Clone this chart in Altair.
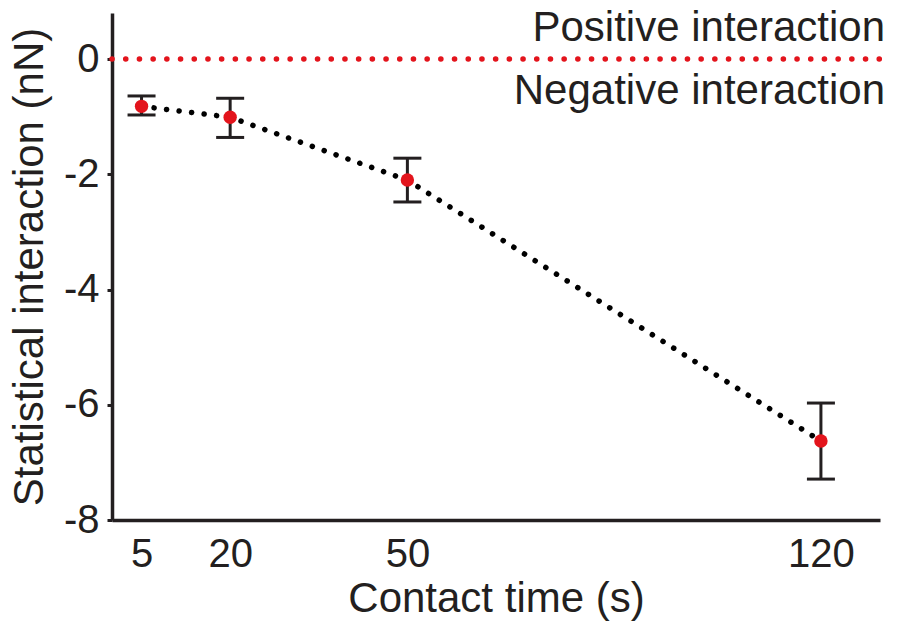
import altair as alt
import pandas as pd

times = [5, 20, 50, 120]
means = [-0.82, -1.01, -2.10, -6.63]
lower = [-0.97, -1.36, -2.48, -7.29]
upper = [-0.64, -0.68, -1.72, -5.97]

ann_labels = ["Positive interaction", "Negative interaction"]
ann_dy = [-18, 45]

x_ticks = [5, 20, 50, 120]
y_ticks = [-8, -6, -4, -2, 0]

FONT = "Liberation Sans"
INK = "#231f20"
RED = "#e3141c"

df = pd.DataFrame({"t": times, "m": means, "lo": lower, "hi": upper})
zero_df = pd.DataFrame({"x": [0], "x2": [130], "y": [0]})

xscale = alt.Scale(domain=[0, 130], nice=False, zero=False)
yscale = alt.Scale(domain=[-8, 0.8], nice=False, zero=False)

xaxis = alt.Axis(values=x_ticks, ticks=False, grid=False, title="Contact time (s)",
                 labelExpr="toString(datum.value)",
                 labelFontSize=40, titleFontSize=42, labelPadding=14, titlePadding=4,
                 domainWidth=3.5, domainColor=INK, labelColor=INK, titleColor=INK,
                 labelFont=FONT, titleFont=FONT, titleFontWeight="normal")
yaxis = alt.Axis(values=y_ticks, grid=False, title="Statistical interaction (nN)",
                 labelExpr="toString(datum.value)",
                 labelFontSize=40, titleFontSize=42, labelPadding=8, titlePadding=12,
                 tickSize=5, tickWidth=3, tickColor=INK,
                 domainWidth=3.5, domainColor=INK, labelColor=INK, titleColor=INK,
                 labelFont=FONT, titleFont=FONT, titleFontWeight="normal")

base = alt.Chart(df)

zero = alt.Chart(zero_df).mark_rule(color=RED, strokeWidth=5.5, strokeDash=[0.1, 13.6],
                                    strokeCap="round").encode(
    x=alt.X("x:Q", scale=xscale, axis=xaxis),
    x2="x2:Q",
    y=alt.Y("y:Q", scale=yscale, axis=yaxis),
)

points = base.mark_circle(color=RED, size=180, opacity=1).encode(
    x=alt.X("t:Q", scale=xscale),
    y=alt.Y("m:Q", scale=yscale),
)

bars = base.mark_rule(color=INK, strokeWidth=3).encode(
    x=alt.X("t:Q", scale=xscale),
    y=alt.Y("lo:Q", scale=yscale),
    y2="hi:Q",
)
cap_lo = base.mark_tick(color=INK, size=28, thickness=3, orient="horizontal", opacity=1).encode(
    x=alt.X("t:Q", scale=xscale),
    y=alt.Y("lo:Q", scale=yscale),
)
cap_hi = base.mark_tick(color=INK, size=28, thickness=3, orient="horizontal", opacity=1).encode(
    x=alt.X("t:Q", scale=xscale),
    y=alt.Y("hi:Q", scale=yscale),
)

line = base.mark_line(color="black", strokeWidth=5.5, strokeDash=[0.1, 12.5],
                      strokeCap="round").encode(
    x=alt.X("t:Q", scale=xscale),
    y=alt.Y("m:Q", scale=yscale),
)

ann_df = pd.DataFrame({"label": ann_labels, "x": [130, 130], "y": [0, 0], "dy": ann_dy})
texts = []
for lab, d in zip(ann_labels, ann_dy):
    texts.append(
        alt.Chart(ann_df[ann_df["label"] == lab]).mark_text(
            align="right", baseline="alphabetic", dx=5, dy=d, fontSize=42,
            font=FONT, color=INK, clip=False
        ).encode(
            x=alt.X("x:Q", scale=xscale),
            y=alt.Y("y:Q", scale=yscale),
            text="label:N",
        )
    )

chart = alt.layer(zero, bars, cap_lo, cap_hi, line, points, *texts).properties(
    width=768, height=507,
    autosize=alt.AutoSizeParams(type="none"),
    padding={"left": 112, "top": 13, "right": 18, "bottom": 104},
).configure(background="white").configure_view(strokeOpacity=0, stroke="transparent")

chart.save("out.html", embed_options={"renderer": "svg", "actions": False})
